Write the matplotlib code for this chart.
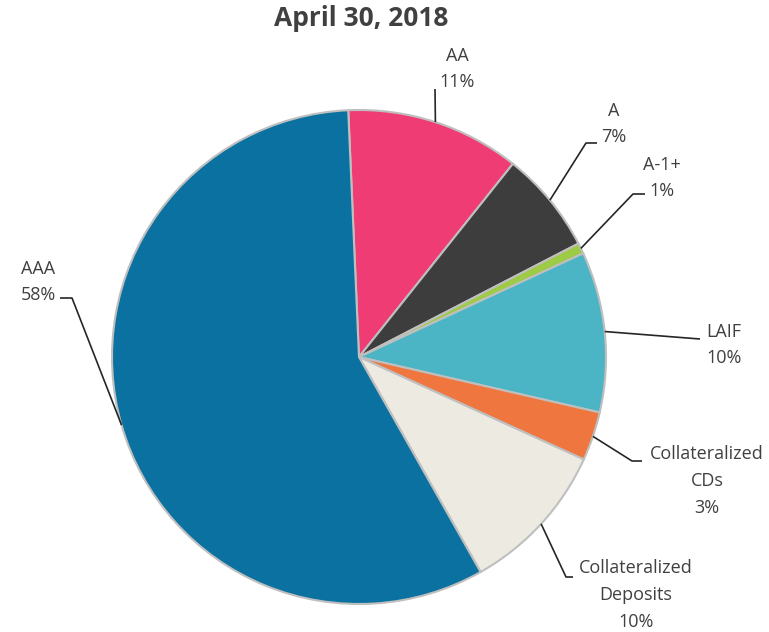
import numpy as np
import matplotlib.pyplot as plt

plt.rcParams['font.family'] = ['Open Sans', 'DejaVu Sans']

# slice data (clockwise from the top)
names = ['AA', 'A', 'A-1+', 'LAIF', 'Collateralized\nCDs',
         'Collateralized\nDeposits', 'AAA']
shares = [11.4, 6.7, 0.7, 10.5, 3.2, 10.0, 57.5]
pct_labels = ['11%', '7%', '1%', '10%', '3%', '10%', '58%']
colors = ['#F03C74', '#3D3D3D', '#9DCB45', '#4BB5C5', '#EF773F',
          '#EDEBE1', '#0A71A0']

# label layout in pixel space (y from top): text centre, leader elbow, tail end
text_pos = [(457, 69), (614, 124), (662, 178), (724, 345),
            (707, 481), (636, 595), (38, 282)]
elbows = [(435, 89), (586, 143), (633, 194), (700, 339),
          (632, 461), (566, 577), (72, 298)]
tails = [None, (597, 143), (645, 194), None,
         (642, 461), (573, 577), (60, 298)]

W, H = 769, 632
fig = plt.figure(figsize=(W / 100, H / 100), dpi=100)
ax = fig.add_axes([0, 0, 1, 1])

cx, cy, R = 359, H - 357, 247
wedges, _ = ax.pie(shares, colors=colors, startangle=92.5, counterclock=False,
                   center=(cx, cy), radius=R, frame=True,
                   wedgeprops=dict(edgecolor='#BFBFBF', linewidth=1.5))
ax.set_xlim(0, W)
ax.set_ylim(0, H)
ax.set_aspect('equal')
ax.axis('off')

tc = '#404040'
for i, w in enumerate(wedges):
    mid = np.deg2rad((w.theta1 + w.theta2) / 2)
    x0, y0 = cx + R * np.cos(mid), cy + R * np.sin(mid)
    xs = [x0, elbows[i][0]]
    ys = [y0, H - elbows[i][1]]
    if tails[i] is not None:
        xs.append(tails[i][0])
        ys.append(H - tails[i][1])
    ax.plot(xs, ys, color='#262626', lw=1.2, solid_capstyle='butt')
    ax.text(text_pos[i][0], H - text_pos[i][1], names[i] + '\n' + pct_labels[i],
            ha='center', va='center', fontsize=13, color=tc, linespacing=1.62)

ax.text(361, H - 18, 'April 30, 2018', ha='center', va='center',
        fontsize=19, fontweight='bold', color=tc)

fig.savefig('out.png', dpi=100)
